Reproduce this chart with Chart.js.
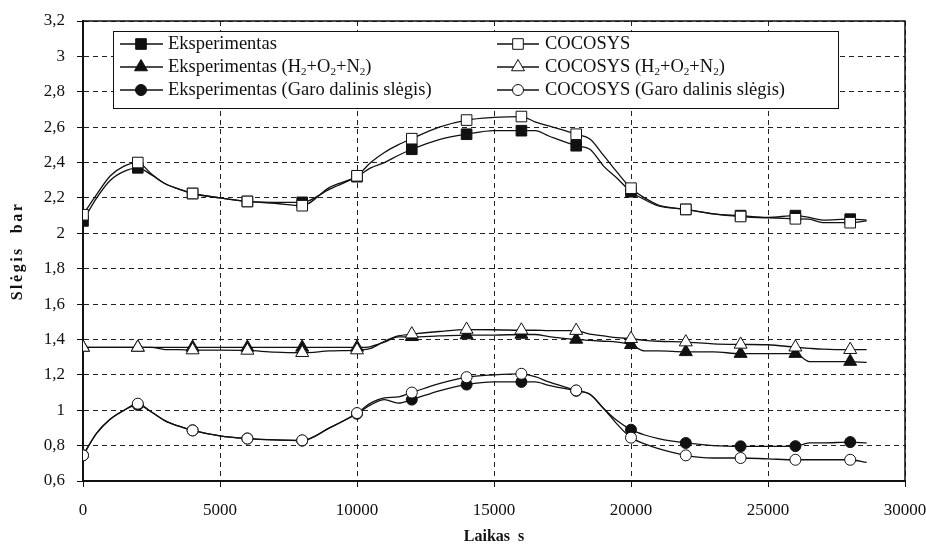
<!DOCTYPE html>
<html><head><meta charset="utf-8">
<script src="https://cdn.jsdelivr.net/npm/chart.js@4/dist/chart.umd.min.js"></script>
<style>html,body{margin:0;padding:0;background:#fff;}</style>
</head><body>
<canvas id="c" width="926" height="549"></canvas>
<script>
// ---- data ----
const time = [0,500,1000,1500,2000,2500,3000,3500,4000,5000,6000,7000,8000,9000,10000,10500,11000,11500,12000,13000,14000,15000,16000,16500,17000,18000,18500,19000,19500,20000,20500,21000,22000,23000,24000,25000,26000,26500,27000,28000,28600];
const expTotal = [2.07,2.20,2.30,2.35,2.37,2.33,2.28,2.25,2.225,2.20,2.18,2.175,2.175,2.25,2.32,2.37,2.40,2.44,2.475,2.53,2.56,2.58,2.58,2.58,2.55,2.495,2.475,2.38,2.31,2.235,2.19,2.155,2.135,2.11,2.10,2.09,2.10,2.09,2.075,2.08,2.075];
const cocTotal = [2.105,2.22,2.325,2.38,2.40,2.335,2.28,2.25,2.225,2.20,2.18,2.17,2.156,2.26,2.325,2.40,2.457,2.50,2.535,2.60,2.64,2.655,2.66,2.63,2.607,2.56,2.533,2.44,2.344,2.255,2.20,2.16,2.135,2.11,2.095,2.087,2.082,2.08,2.06,2.06,2.07];
const expGas = [1.355,1.355,1.355,1.355,1.355,1.355,1.355,1.355,1.355,1.355,1.355,1.355,1.355,1.355,1.355,1.36,1.385,1.415,1.415,1.42,1.425,1.425,1.428,1.428,1.416,1.40,1.395,1.39,1.385,1.37,1.335,1.335,1.33,1.33,1.32,1.32,1.32,1.275,1.275,1.275,1.27];
const cocGas = [1.355,1.355,1.355,1.355,1.355,1.355,1.343,1.343,1.34,1.34,1.338,1.328,1.325,1.335,1.34,1.35,1.39,1.42,1.43,1.445,1.456,1.455,1.452,1.452,1.45,1.45,1.43,1.42,1.41,1.404,1.395,1.39,1.385,1.375,1.372,1.37,1.356,1.35,1.345,1.342,1.342];
const expSteam = [0.745,0.87,0.95,1.0,1.03,0.99,0.94,0.91,0.886,0.855,0.84,0.832,0.828,0.90,0.98,1.03,1.06,1.04,1.06,1.11,1.145,1.16,1.16,1.16,1.14,1.11,1.09,1.01,0.94,0.89,0.86,0.84,0.815,0.80,0.796,0.796,0.797,0.815,0.815,0.82,0.815];
const cocSteam = [0.745,0.87,0.95,1.0,1.037,0.99,0.94,0.91,0.886,0.855,0.84,0.832,0.83,0.90,0.984,1.04,1.07,1.075,1.10,1.15,1.187,1.20,1.206,1.19,1.16,1.112,1.09,1.01,0.92,0.845,0.81,0.783,0.745,0.73,0.73,0.725,0.72,0.72,0.72,0.72,0.705];
const seriesLabels = ['Eksperimentas','Eksperimentas (H₂+O₂+N₂)','Eksperimentas (Garo dalinis slėgis)','COCOSYS','COCOSYS (H₂+O₂+N₂)','COCOSYS (Garo dalinis slėgis)'];
const xTickValues = [0,5000,10000,15000,20000,25000,30000];
const xTickLabels = ['0','5000','10000','15000','20000','25000','30000'];
const yTickValues = [0.6,0.8,1.0,1.2,1.4,1.6,1.8,2.0,2.2,2.4,2.6,2.8,3.0,3.2];
const yTickLabels = ['0,6','0,8','1','1,2','1,4','1,6','1,8','2','2,2','2,4','2,6','2,8','3','3,2'];
const xTitle = 'Laikas  s';
const yTitle = 'Slėgis  bar';
const markerEvery = 2000;

// ---- styling ----
const INK = '#111';
const FONT = '"Liberation Serif", "DejaVu Serif", serif';
const RAD = {rect: 7.5, triangle: 7.5, circle: 5.5};

function mk(label, values, style, filled, order) {
  return {
    label,
    data: time.map((t, i) => ({x: t, y: values[i]})),
    borderColor: INK, borderWidth: 1.3, fill: false,
    cubicInterpolationMode: 'monotone',
    pointStyle: style,
    pointBackgroundColor: filled ? INK : '#fff',
    pointBorderColor: INK, pointBorderWidth: 1,
    pointRadius: c => (time[c.dataIndex] % markerEvery === 0) ? RAD[style] : 0,
    pointHoverRadius: 0,
    _style: style, _filled: filled,
    order
  };
}

const datasets = [
  mk(seriesLabels[0], expTotal, 'rect', true, 1),
  mk(seriesLabels[1], expGas, 'triangle', true, 1),
  mk(seriesLabels[2], expSteam, 'circle', true, 1),
  mk(seriesLabels[3], cocTotal, 'rect', false, 0),
  mk(seriesLabels[4], cocGas, 'triangle', false, 0),
  mk(seriesLabels[5], cocSteam, 'circle', false, 0)
];

function drawMarker(ctx, style, x, y, r, filled) {
  ctx.beginPath();
  if (style === 'rect') {
    const s = r * Math.SQRT1_2;
    ctx.rect(x - s, y - s, 2 * s, 2 * s);
  } else if (style === 'circle') {
    ctx.arc(x, y, r, 0, Math.PI * 2);
  } else {
    for (let k = 0; k < 3; k++) {
      const a = k * 2 * Math.PI / 3;
      const px = x + Math.sin(a) * r, py = y - Math.cos(a) * r;
      k ? ctx.lineTo(px, py) : ctx.moveTo(px, py);
    }
    ctx.closePath();
  }
  ctx.fillStyle = filled ? INK : '#fff';
  ctx.fill();
  ctx.lineWidth = 1; ctx.strokeStyle = INK; ctx.stroke();
}

function drawRich(ctx, text, x, y, size) {
  const parts = text.split(/(₂)/);
  let cx = x;
  for (const p of parts) {
    if (!p) continue;
    if (p === '₂') {
      ctx.font = (size * 0.6) + 'px ' + FONT;
      ctx.fillText('2', cx, y + size * 0.25);
      cx += ctx.measureText('2').width;
    } else {
      ctx.font = size + 'px ' + FONT;
      ctx.fillText(p, cx, y);
      cx += ctx.measureText(p).width;
    }
  }
}

const decor = {
  id: 'decor',
  afterDraw(chart) {
    const ctx = chart.ctx, a = chart.chartArea;
    ctx.save();
    // frame (top/right)
    ctx.strokeStyle = INK; ctx.lineWidth = 1.5;
    ctx.beginPath();
    ctx.moveTo(a.left, a.top); ctx.lineTo(a.right, a.top); ctx.lineTo(a.right, a.bottom);
    ctx.stroke();
    // legend
    const L = {x: 113, y: 31, w: 725, h: 77};
    ctx.fillStyle = '#fff'; ctx.fillRect(L.x, L.y, L.w, L.h);
    ctx.lineWidth = 1; ctx.strokeStyle = INK; ctx.strokeRect(L.x + 0.5, L.y + 0.5, L.w, L.h);
    const rows = [44, 67, 90];
    const cols = [{l0: 120, l1: 163, m: 141, t: 168}, {l0: 497, l1: 539, m: 518, t: 545}];
    chart.data.datasets.forEach((ds, i) => {
      const c = cols[i < 3 ? 0 : 1], y = rows[i % 3];
      ctx.strokeStyle = INK; ctx.lineWidth = 1.3;
      ctx.beginPath(); ctx.moveTo(c.l0, y); ctx.lineTo(c.l1, y); ctx.stroke();
      drawMarker(ctx, ds._style, c.m, y, RAD[ds._style], ds._filled);
      ctx.fillStyle = INK; ctx.textBaseline = 'middle'; ctx.textAlign = 'left';
      drawRich(ctx, ds.label, c.t, y, 18.5);
    });
    // axis titles
    ctx.fillStyle = INK; ctx.textAlign = 'center'; ctx.textBaseline = 'middle';
    ctx.font = 'bold 16px ' + FONT;
    ctx.fillText(xTitle, (a.left + a.right) / 2, 537);
    ctx.save();
    ctx.translate(18, (a.top + a.bottom) / 2);
    ctx.rotate(-Math.PI / 2);
    try { ctx.letterSpacing = '2.5px'; } catch (e) {}
    ctx.fillText(yTitle, 0, 0);
    ctx.restore();
    ctx.restore();
  }
};

new Chart(document.getElementById('c'), {
  type: 'line',
  data: {datasets},
  plugins: [decor],
  options: {
    responsive: false, animation: false, devicePixelRatio: 1,
    layout: {padding: {top: 21, right: 21, left: 0, bottom: 0}},
    plugins: {legend: {display: false}, tooltip: {enabled: false}},
    scales: {
      x: {
        type: 'linear', min: 0, max: 30000,
        afterBuildTicks: s => { s.ticks = xTickValues.map(v => ({value: v})); },
        afterFit: s => { s.height = 68; s.paddingRight = 0; s.paddingLeft = 0; },
        ticks: {callback: (v, i) => xTickLabels[i], font: {family: FONT, size: 17}, color: INK, padding: 13, maxRotation: 0, autoSkip: false},
        grid: {color: '#222', lineWidth: 1, tickLength: 6, tickColor: INK},
        border: {dash: [5, 4], color: INK, width: 2}
      },
      y: {
        type: 'linear', min: 0.6, max: 3.2,
        afterBuildTicks: s => { s.ticks = yTickValues.map(v => ({value: v})); },
        afterFit: s => { s.width = 83; s.paddingTop = 0; s.paddingBottom = 0; },
        ticks: {callback: (v, i) => yTickLabels[i], font: {family: FONT, size: 17}, color: INK, padding: 12, autoSkip: false},
        grid: {color: '#222', lineWidth: 1, tickLength: 6, tickColor: INK},
        border: {dash: [5, 4], color: INK, width: 2}
      }
    }
  }
});
</script>
</body></html>
